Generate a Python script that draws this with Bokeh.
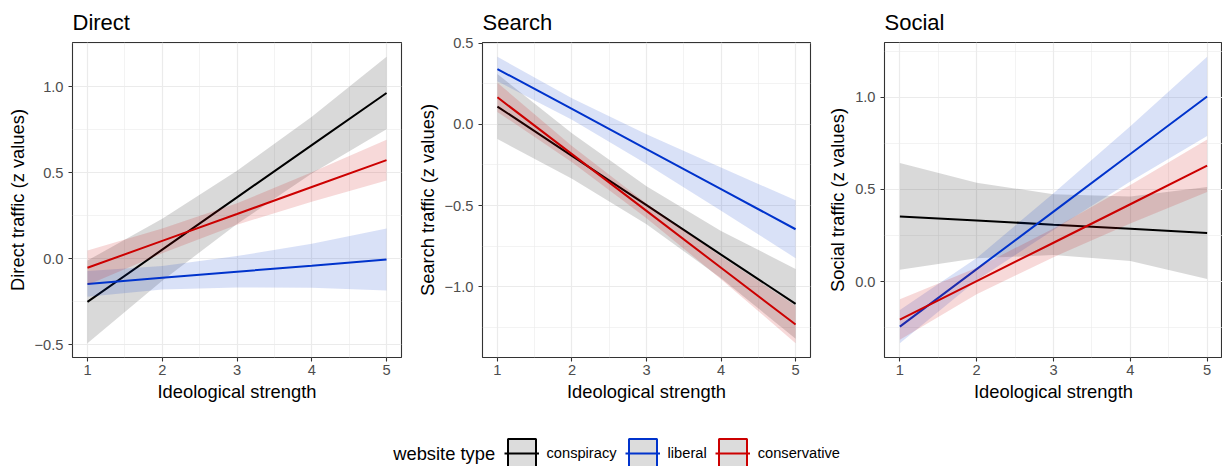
from bokeh.plotting import figure
from bokeh.layouts import row, column
from bokeh.models import (Range1d, FixedTicker, CustomJSTickFormatter, Legend,
                          LegendItem, Label)
from bokeh.embed import file_html
from bokeh.resources import INLINE

FONT = "Liberation Sans"

# ---------------- data ----------------
X = [1, 2, 3, 4, 5]
SERIES = ["conspiracy", "liberal", "conservative"]
COLORS = ["#000000", "#0033CC", "#CC0000"]

X_TICKS = [1, 2, 3, 4, 5]
X_MINOR = [1.5, 2.5, 3.5, 4.5]

# Direct traffic
direct_conspiracy_fit = [-0.250, 0.053, 0.357, 0.660, 0.963]
direct_conspiracy_lo = [-0.490, -0.127, 0.202, 0.495, 0.753]
direct_conspiracy_hi = [-0.010, 0.233, 0.512, 0.825, 1.173]
direct_liberal_fit = [-0.146, -0.110, -0.075, -0.040, -0.004]
direct_liberal_lo = [-0.221, -0.178, -0.166, -0.168, -0.184]
direct_liberal_hi = [-0.071, -0.042, 0.016, 0.088, 0.176]
direct_conservative_fit = [-0.052, 0.104, 0.260, 0.417, 0.573]
direct_conservative_lo = [-0.152, 0.032, 0.198, 0.332, 0.455]
direct_conservative_hi = [0.048, 0.176, 0.322, 0.502, 0.691]
direct_yticks = [-0.5, 0.0, 0.5, 1.0]
direct_ylabels = ["\u22120.5", "0.0", "0.5", "1.0"]
direct_yminor = [-0.25, 0.25, 0.75, 1.25]

# Search traffic
search_conspiracy_fit = [0.109, -0.195, -0.498, -0.802, -1.105]
search_conspiracy_lo = [-0.091, -0.335, -0.615, -0.947, -1.320]
search_conspiracy_hi = [0.309, -0.055, -0.381, -0.657, -0.890]
search_liberal_fit = [0.340, 0.094, -0.153, -0.399, -0.646]
search_liberal_lo = [0.265, 0.028, -0.245, -0.532, -0.824]
search_liberal_hi = [0.415, 0.160, -0.061, -0.266, -0.468]
search_conservative_fit = [0.166, -0.184, -0.533, -0.883, -1.232]
search_conservative_lo = [0.076, -0.234, -0.578, -0.953, -1.347]
search_conservative_hi = [0.256, -0.134, -0.488, -0.813, -1.117]
search_yticks = [-1.0, -0.5, 0.0, 0.5]
search_ylabels = ["\u22121.0", "\u22120.5", "0.0", "0.5"]
search_yminor = [-1.25, -0.75, -0.25, 0.25]

# Social traffic
social_conspiracy_fit = [0.354, 0.332, 0.309, 0.287, 0.264]
social_conspiracy_lo = [0.064, 0.127, 0.144, 0.112, 0.014]
social_conspiracy_hi = [0.644, 0.537, 0.474, 0.462, 0.514]
social_liberal_fit = [-0.244, 0.068, 0.380, 0.693, 1.005]
social_liberal_lo = [-0.334, 0.008, 0.280, 0.543, 0.790]
social_liberal_hi = [-0.154, 0.128, 0.480, 0.843, 1.220]
social_conservative_fit = [-0.206, 0.003, 0.211, 0.420, 0.629]
social_conservative_lo = [-0.316, -0.069, 0.133, 0.315, 0.487]
social_conservative_hi = [-0.096, 0.075, 0.289, 0.525, 0.771]
social_yticks = [0.0, 0.5, 1.0]
social_ylabels = ["0.0", "0.5", "1.0"]
social_yminor = [-0.25, 0.25, 0.75, 1.25]

PANELS = [
    dict(title="Direct", ylabel="Direct traffic (z values)",
         fits=[direct_conspiracy_fit, direct_liberal_fit, direct_conservative_fit],
         los=[direct_conspiracy_lo, direct_liberal_lo, direct_conservative_lo],
         his=[direct_conspiracy_hi, direct_liberal_hi, direct_conservative_hi],
         yticks=direct_yticks, ylabels=direct_ylabels, yminor=direct_yminor,
         width=407, mbl=72, mbr=6),
    dict(title="Search", ylabel="Search traffic (z values)",
         fits=[search_conspiracy_fit, search_liberal_fit, search_conservative_fit],
         los=[search_conspiracy_lo, search_liberal_lo, search_conservative_lo],
         his=[search_conspiracy_hi, search_liberal_hi, search_conservative_hi],
         yticks=search_yticks, ylabels=search_ylabels, yminor=search_yminor,
         width=408, mbl=75, mbr=5),
    dict(title="Social", ylabel="Social traffic (z values)",
         fits=[social_conspiracy_fit, social_liberal_fit, social_conservative_fit],
         los=[social_conspiracy_lo, social_liberal_lo, social_conservative_lo],
         his=[social_conspiracy_hi, social_liberal_hi, social_conservative_hi],
         yticks=social_yticks, ylabels=social_ylabels, yminor=social_yminor,
         width=407, mbl=69, mbr=0),
]

FMT = CustomJSTickFormatter(code="return tick.toFixed(1).replace('-', '\\u2212');")


def make_panel(cfg):
    lo_all = min(min(v) for v in cfg["los"])
    hi_all = max(max(v) for v in cfg["his"])
    pad = 0.05 * (hi_all - lo_all)
    xpad = 0.05 * (max(X) - min(X))
    p = figure(width=cfg["width"], height=410,
               x_range=Range1d(min(X) - xpad, max(X) + xpad),
               y_range=Range1d(lo_all - pad, hi_all + pad),
               output_backend="svg", toolbar_location=None,
               min_border_left=cfg["mbl"], min_border_right=cfg["mbr"],
               min_border_top=42, min_border_bottom=53,
               title=cfg["title"], background_fill_color="white",
               border_fill_color="white")
    p.title.text_font = FONT
    p.title.text_font_size = "22px"
    p.title.text_font_style = "normal"
    p.title.text_color = "#000000"
    p.title.align = "left"
    p.title.offset = 0
    p.title.standoff = 15

    p.outline_line_color = "#333333"
    p.outline_line_width = 1.1

    p.xaxis.ticker = FixedTicker(ticks=X_TICKS, minor_ticks=X_MINOR)
    p.yaxis.ticker = FixedTicker(ticks=cfg["yticks"], minor_ticks=cfg["yminor"])
    p.yaxis.formatter = FMT
    p.yaxis.major_label_overrides = dict(zip(cfg["yticks"], cfg["ylabels"]))

    p.xaxis.axis_label = "Ideological strength"
    p.yaxis.axis_label = cfg["ylabel"]
    for ax in (p.xaxis, p.yaxis):
        ax.axis_line_color = None
        ax.major_tick_line_color = "#333333"
        ax.major_tick_line_width = 1.1
        ax.major_tick_out = 4
        ax.major_tick_in = 0
        ax.minor_tick_out = 0
        ax.minor_tick_in = 0
        ax.major_label_text_font = FONT
        ax.major_label_text_font_size = "14.67px"
        ax.major_label_text_color = "#4D4D4D"
        ax.axis_label_text_font = FONT
        ax.axis_label_text_font_size = "18.33px"
        ax.axis_label_text_font_style = "normal"
        ax.axis_label_text_color = "#000000"
    p.yaxis.major_label_standoff = 5
    p.yaxis.axis_label_standoff = 4
    p.xaxis.major_label_standoff = 3
    p.xaxis.axis_label_standoff = 3

    p.grid.grid_line_color = "#EBEBEB"
    p.grid.grid_line_width = 1.2
    p.grid.minor_grid_line_color = "#EBEBEB"
    p.grid.minor_grid_line_width = 0.6

    for fit, lo, hi, col in zip(cfg["fits"], cfg["los"], cfg["his"], COLORS):
        p.varea(x=X, y1=lo, y2=hi, fill_color=col, fill_alpha=0.15)
        p.line(x=X, y=fit, line_color=col, line_width=2)
    return p


panels = [make_panel(c) for c in PANELS]

# ---------------- legend strip ----------------
leg = figure(width=1222, height=56, x_range=Range1d(0, 1), y_range=Range1d(0, 1),
             output_backend="svg", toolbar_location=None, min_border=0,
             x_axis_location=None, y_axis_location=None,
             outline_line_color=None, background_fill_color="white",
             border_fill_color="white")
leg.grid.visible = False
items = []
for name, col in zip(SERIES, COLORS):
    # key-only renderers: placed outside the visible range of the legend strip
    q = leg.quad(left=[-3], right=[-2], top=[-2], bottom=[-3], fill_color="#DCDCDC",
                 line_color=col, line_width=2)
    ln = leg.line(x=[-3, -2], y=[-3, -3], line_color=col, line_width=2)
    items.append(LegendItem(label=name, renderers=[q, ln]))
legend = Legend(items=items, orientation="horizontal", location=(503.5, -5),
                glyph_width=35, glyph_height=36, label_standoff=8, spacing=8,
                padding=0, margin=0, border_line_color=None,
                background_fill_alpha=0, label_text_font=FONT,
                label_text_font_size="14.67px", label_text_color="#000000")
leg.add_layout(legend)
leg.add_layout(Label(x=392.7, y=13, x_units="screen", y_units="screen",
                     text="website type", text_font=FONT,
                     text_font_size="18.33px", text_baseline="middle",
                     text_align="left", text_color="#000000"))

layout = column(row(*panels, spacing=0), leg, spacing=0)

with open("out.html", "w") as f:
    f.write(file_html(layout, INLINE, title="Traffic by ideological strength"))
